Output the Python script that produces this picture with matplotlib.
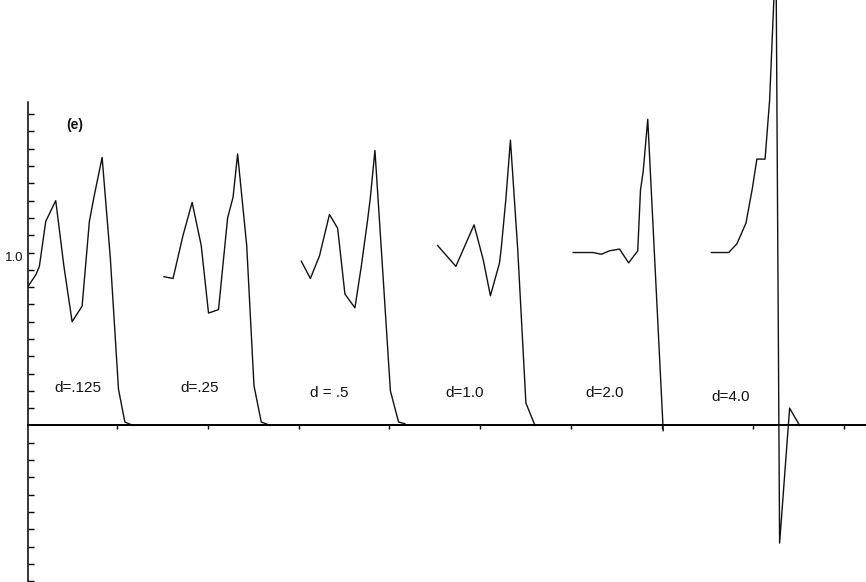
import matplotlib
matplotlib.use("Agg")
import matplotlib.pyplot as plt

# curves (x: one unit per tick, y: one unit = 10 ticks)
d125_x = [0.02, 0.11, 0.15, 0.22, 0.33, 0.42, 0.51, 0.62, 0.70, 0.75, 0.84, 0.93, 1.02, 1.09, 1.18]
d125_y = [0.80, 0.87, 0.92, 1.18, 1.30, 0.92, 0.60, 0.69, 1.18, 1.32, 1.55, 0.97, 0.21, 0.02, 0.0]

d25_x = [1.52, 1.62, 1.73, 1.83, 1.93, 2.01, 2.12, 2.22, 2.28, 2.33, 2.43, 2.51, 2.59, 2.69]
d25_y = [0.86, 0.85, 1.10, 1.29, 1.04, 0.65, 0.67, 1.20, 1.32, 1.57, 1.04, 0.23, 0.02, 0.0]

d5_x = [3.03, 3.13, 3.23, 3.34, 3.43, 3.51, 3.62, 3.69, 3.76, 3.79, 3.84, 3.92, 4.01, 4.10, 4.17]
d5_y = [0.95, 0.85, 0.98, 1.22, 1.14, 0.76, 0.68, 0.92, 1.19, 1.32, 1.59, 0.94, 0.20, 0.02, 0.01]

d1_x = [4.53, 4.73, 4.93, 5.03, 5.11, 5.21, 5.23, 5.28, 5.33, 5.41, 5.50, 5.60]
d1_y = [1.04, 0.92, 1.16, 0.96, 0.75, 0.94, 1.03, 1.31, 1.65, 1.02, 0.13, 0.0]

d2_x = [6.02, 6.24, 6.33, 6.42, 6.53, 6.63, 6.73, 6.76, 6.79, 6.84, 7.01]
d2_y = [1.00, 1.00, 0.99, 1.01, 1.02, 0.94, 1.01, 1.36, 1.47, 1.77, -0.03]

d4_x = [7.54, 7.73, 7.82, 7.92, 7.99, 8.04, 8.13, 8.18, 8.25, 8.29, 8.40, 8.51]
d4_y = [1.00, 1.00, 1.05, 1.17, 1.37, 1.54, 1.54, 1.88, 2.75, -0.68, 0.10, 0.0]

labels = ["d=.125", "d=.25", "d = .5", "d=1.0", "d=2.0", "d=4.0"]
label_x = [0.575, 1.916, 3.334, 4.83, 6.364, 7.755]
label_y = [0.217, 0.217, 0.188, 0.188, 0.188, 0.165]

curves = [(d125_x, d125_y), (d25_x, d25_y), (d5_x, d5_y),
          (d1_x, d1_y), (d2_x, d2_y), (d4_x, d4_y)]

plt.rcParams['font.family'] = ['Liberation Sans', 'DejaVu Sans']

fig = plt.figure(figsize=(8.66, 5.82), dpi=100)
ax = fig.add_axes([28 / 866, 0, 838 / 866, 1])

for cx, cy in curves:
    ax.plot(cx, cy, color='#111111', lw=1.0)

for lab, lx, ly in zip(labels, label_x, label_y):
    ax.text(lx, ly, lab, ha='center', va='center', fontsize=11, color='#111111')

ax.text(0.536, 1.74, "(e)", ha='center', va='center', fontsize=10, fontweight='bold', color='#111111')
ax.text(-0.13, 0.968, "1.0", ha='center', va='center', fontsize=9.5, color='#111111', clip_on=False)

ax.set_xlim(0.025, 9.24)
ax.set_ylim(-0.905, 2.46)

ax.spines['top'].set_visible(False)
ax.spines['right'].set_visible(False)
ax.spines['bottom'].set_position(('data', 0))
ax.spines['bottom'].set_linewidth(1.4)
ax.spines['left'].set_linewidth(1.1)
ax.spines['left'].set_bounds(-0.91, 1.87)

ax.set_xticks(range(1, 10))
ax.set_xticklabels([])
yt = [i / 10 for i in range(-9, 19) if i != 0]
ax.set_yticks(yt)
ax.set_yticklabels([])
ax.tick_params(axis='x', direction='out', length=3, width=1)
ax.tick_params(axis='y', direction='in', length=4, width=1)

fig.savefig("out.png", dpi=100)
